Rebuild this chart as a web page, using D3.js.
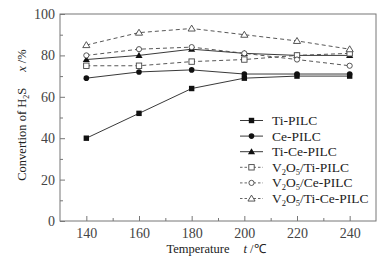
<!DOCTYPE html>
<html><head><meta charset="utf-8">
<script src="https://cdn.jsdelivr.net/npm/d3@7"></script>
<style>body{margin:0;background:#fff}svg{display:block}</style>
</head><body>
<script>
const temps = [140,160,180,200,220,240];
const tiPILC = [40,52,64,69,70,70];
const cePILC = [69,72,73,71,71,71];
const tiCePILC = [78,80,83,81,80,80];
const v2o5TiPILC = [75,75,77,78,80,81];
const v2o5CePILC = [80,83,84,81,78,75];
const v2o5TiCePILC = [85,91,93,90,87,83];
const xTicks = [140,160,180,200,220,240];
const yTicks = [0,20,40,60,80,100];

const series = [
  {name:[["Ti-PILC"]], vals:tiPILC, sym:"square", fill:true, dash:null},
  {name:[["Ce-PILC"]], vals:cePILC, sym:"circle", fill:true, dash:null},
  {name:[["Ti-Ce-PILC"]], vals:tiCePILC, sym:"triangle", fill:true, dash:null},
  {name:[["V"],["2","s"],["O"],["5","s"],["/Ti-PILC"]], vals:v2o5TiPILC, sym:"square", fill:false, dash:"4,3"},
  {name:[["V"],["2","s"],["O"],["5","s"],["/Ce-PILC"]], vals:v2o5CePILC, sym:"circle", fill:false, dash:"4,3"},
  {name:[["V"],["2","s"],["O"],["5","s"],["/Ti-Ce-PILC"]], vals:v2o5TiCePILC, sym:"triangle", fill:false, dash:"4,3"}
];

const W=386,H=262, L=60,T=14,R=376,B=221;
const svg=d3.select("body").append("svg").attr("width",W).attr("height",H);
const x=d3.scaleLinear().domain([130,250]).range([L,R]);
const y=d3.scaleLinear().domain([0,100]).range([B,T]);
const font="'Liberation Serif','Times New Roman',serif";
const frameC="#777", txtC="#444";

svg.append("rect").attr("x",L).attr("y",T).attr("width",R-L).attr("height",B-T)
  .attr("fill","none").attr("stroke",frameC).attr("stroke-width",1);

const xa=d3.axisBottom(x).tickValues(d3.range(140,250,10)).tickSize(-4)
  .tickFormat(d=>xTicks.includes(d)?d:"");
const gx=svg.append("g").attr("transform",`translate(0,${B})`).call(xa);
gx.selectAll(".tick line").attr("y2",d=>xTicks.includes(d)?-5:-3).attr("stroke",frameC);
gx.select(".domain").remove();
gx.selectAll("text").attr("y",7).attr("font-family",font).attr("font-size",14).attr("fill",txtC);

const ya=d3.axisLeft(y).tickValues(d3.range(0,101,10)).tickSize(-4)
  .tickFormat(d=>yTicks.includes(d)?d:"");
const gy=svg.append("g").attr("transform",`translate(${L},0)`).call(ya);
gy.selectAll(".tick line").attr("x2",d=>yTicks.includes(d)?5:3).attr("stroke",frameC);
gy.select(".domain").remove();
gy.selectAll("text").attr("x",-5).attr("font-family",font).attr("font-size",14).attr("fill",txtC);

const xl=svg.append("text").attr("x",216).attr("y",253).attr("text-anchor","middle")
  .attr("font-family",font).attr("font-size",12.5).attr("fill","#222");
xl.append("tspan").text("Temperature");
xl.append("tspan").attr("dx",14).attr("font-style","italic").text("t");
xl.append("tspan").text(" /℃");

const yl=svg.append("text").attr("transform","translate(26,115) rotate(-90)").attr("text-anchor","middle")
  .attr("font-family",font).attr("font-size",12.5).attr("fill","#222");
yl.append("tspan").text("Convertion of H");
yl.append("tspan").attr("font-size",8).attr("dy",3).text("2");
yl.append("tspan").attr("dy",-3).text("S");
yl.append("tspan").attr("dx",16).attr("font-style","italic").text("x");
yl.append("tspan").text(" /%");

function drawSym(g,sym,fill,cx,cy){
  const c="#111";
  if(sym==="square"){
    g.append("rect").attr("x",cx-2.7).attr("y",cy-2.7).attr("width",5.4).attr("height",5.4)
     .attr("fill",fill?c:"#fff").attr("stroke",fill?c:"#444").attr("stroke-width",fill?0:0.9);
  } else if(sym==="circle"){
    g.append("circle").attr("cx",cx).attr("cy",cy).attr("r",fill?2.8:2.6)
     .attr("fill",fill?c:"#fff").attr("stroke",fill?c:"#444").attr("stroke-width",fill?0:0.9);
  } else {
    const s=3.4;
    g.append("path").attr("d",`M${cx},${cy-s}L${cx+s*1.05},${cy+s*0.75}L${cx-s*1.05},${cy+s*0.75}Z`)
     .attr("fill",fill?c:"#fff").attr("stroke",fill?c:"#444").attr("stroke-width",fill?0:0.9);
  }
}

const line=d3.line().x((d,i)=>x(temps[i])).y(d=>y(d));
series.forEach(s=>{
  svg.append("path").attr("d",line(s.vals)).attr("fill","none")
    .attr("stroke",s.fill?"#222":"#444").attr("stroke-width",0.9)
    .attr("stroke-dasharray",s.dash);
});
series.forEach(s=>{
  const g=svg.append("g");
  s.vals.forEach((v,i)=>drawSym(g,s.sym,s.fill,x(temps[i]),y(v)));
});

series.forEach((s,i)=>{
  const yy=120.5+i*15.6;
  const g=svg.append("g");
  g.append("line").attr("x1",240).attr("x2",263).attr("y1",yy).attr("y2",yy)
   .attr("stroke",s.fill?"#222":"#555").attr("stroke-width",0.9)
   .attr("stroke-dasharray",s.fill?null:"2.5,2");
  drawSym(g,s.sym,s.fill,251.5,yy);
  const t=g.append("text").attr("x",272).attr("y",yy+4.5).attr("font-family",font)
    .attr("font-size",13.5).attr("fill","#222");
  let prevSub=false;
  s.name.forEach(p=>{
    if(p[1]==="s"){ t.append("tspan").attr("font-size",8.5).attr("dy",3).text(p[0]); prevSub=true; }
    else { const ts=t.append("tspan").text(p[0]); if(prevSub) ts.attr("dy",-3); prevSub=false; }
  });
});
</script>
</body></html>
